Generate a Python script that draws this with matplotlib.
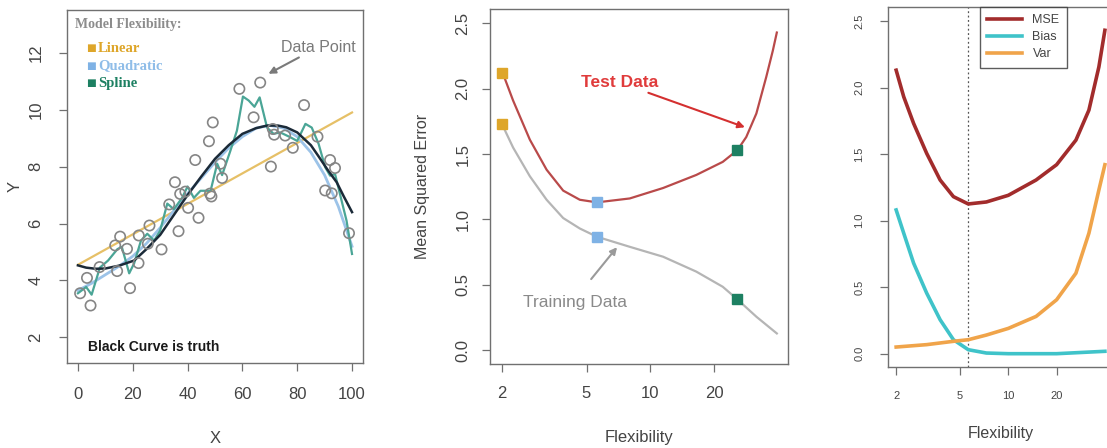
import matplotlib
matplotlib.use("AGG")
import numpy as np
from matplotlib import pyplot as plt
from matplotlib.ticker import FixedLocator, NullLocator

plt.rcParams['font.family'] = ['Liberation Sans', 'DejaVu Sans']

# ---- left panel: data points and fits ----
pts_x = [0.8, 3.3, 4.6, 7.9, 13.6, 15.4, 14.3, 17.9, 19.0, 22.1, 22.2, 26.1, 25.5,
         30.5, 33.3, 35.4, 36.7, 37.3, 39.2, 40.2, 42.8, 44.0, 47.8, 49.2, 48.7,
         48.2, 52.6, 52.0, 58.9, 64.1, 66.5, 70.4, 71.1, 71.6, 75.6, 78.4, 82.5,
         87.4, 90.2, 92.6, 92.0, 93.8, 98.9]
pts_y = [3.55, 4.09, 3.12, 4.47, 5.23, 5.54, 4.33, 5.11, 3.73, 4.61, 5.58, 5.93, 5.29,
         5.09, 6.67, 7.45, 5.73, 7.04, 7.12, 6.55, 8.23, 6.20, 8.89, 9.55, 6.95,
         7.05, 7.60, 8.10, 10.73, 9.73, 10.95, 8.00, 9.32, 9.12, 9.09, 8.66, 10.16,
         9.05, 7.16, 7.06, 8.23, 7.95, 5.66]

truth_x = [0, 3, 6.5, 10, 15, 20.5, 25, 30, 35, 40, 45, 50, 55, 60, 65, 69, 73, 76,
           80, 85, 88, 91, 94.4, 97, 100]
truth_y = [4.53, 4.45, 4.41, 4.42, 4.52, 4.70, 5.10, 5.60, 6.30, 7.00, 7.65, 8.27,
           8.75, 9.15, 9.35, 9.44, 9.44, 9.38, 9.20, 8.75, 8.33, 7.90, 7.45, 6.95, 6.40]

linear_x = [0, 100]
linear_y = [4.55, 9.9]

quad_x = [0, 5, 10, 15, 20, 25, 30, 35, 40, 45, 50, 55, 60, 65, 70, 75, 80, 85, 90, 95, 100]
quad_y = [3.65, 3.9, 4.2, 4.5, 4.85, 5.3, 5.85, 6.45, 7.05, 7.6, 8.15, 8.65, 9.05,
          9.35, 9.45, 9.35, 9.05, 8.5, 7.7, 6.6, 5.2]

spline_x = [0, 3, 5, 8, 11, 14.4, 16, 18.7, 20.5, 23, 25.3, 27.8, 30, 32.6, 35, 38,
            40, 42.3, 44.7, 48.4, 50.8, 52.6, 55.6, 58, 60.2, 62.3, 64.4, 66.3, 69,
            71.4, 73.8, 77.5, 80, 83, 85.3, 87.8, 90.2, 92, 93.8, 96.2, 98, 100]
spline_y = [3.55, 3.77, 3.5, 4.45, 4.7, 5.1, 5.18, 4.25, 4.6, 5.4, 5.64, 5.4, 5.75,
            6.7, 6.5, 6.9, 7.3, 6.9, 7.15, 7.15, 8.1, 7.7, 8.55, 9.26, 10.46, 10.32,
            10.1, 10.43, 9.37, 9.15, 9.2, 9.03, 8.9, 9.5, 9.37, 8.8, 7.98, 7.68,
            7.74, 6.8, 6.1, 4.93]

# ---- middle panel: train / test MSE ----
test_x = [2, 2.25, 2.7, 3.24, 3.88, 4.65, 5.6, 8.0, 11.5, 16.5, 22, 25.8, 28.4,
          31.7, 35.3, 37.9, 39.6]
test_y = [2.13, 1.91, 1.61, 1.38, 1.22, 1.15, 1.13, 1.16, 1.24, 1.34, 1.44, 1.53,
          1.63, 1.81, 2.09, 2.29, 2.43]
train_x = [2, 2.25, 2.7, 3.24, 3.88, 4.65, 5.6, 8.0, 11.5, 16.5, 22, 25.8, 31.7, 39.6]
train_y = [1.725, 1.55, 1.33, 1.15, 1.01, 0.93, 0.867, 0.79, 0.714, 0.60, 0.484,
           0.387, 0.255, 0.127]
model_flex = [2, 5.6, 25.8]
model_test = [2.12, 1.13, 1.53]
model_train = [1.73, 0.865, 0.39]

# ---- right panel: bias-variance ----
mse_x = [2, 2.23, 2.57, 3.1, 3.76, 4.55, 5.63, 7.3, 10, 14.9, 20, 26.4, 31.8, 36.7, 40]
mse_y = [2.13, 1.93, 1.73, 1.505, 1.305, 1.18, 1.125, 1.14, 1.19, 1.305, 1.42,
         1.605, 1.83, 2.155, 2.43]
bias_x = [2, 2.23, 2.57, 3.1, 3.76, 4.55, 5.63, 7.3, 10, 20, 40]
bias_y = [1.08, 0.905, 0.68, 0.455, 0.255, 0.105, 0.03, 0.005, 0.0, 0.0, 0.018]
var_x = [2, 3.1, 4.55, 5.63, 7.3, 10, 14.9, 20, 26.4, 31.8, 36.7, 40]
var_y = [0.05, 0.068, 0.093, 0.105, 0.14, 0.19, 0.28, 0.405, 0.605, 0.905, 1.23, 1.42]
best_flex = 5.63

model_names = ["Linear", "Quadratic", "Spline"]
model_colors = ["#dea62a", "#7fb2e5", "#1d8062"]

frame_col = "#707070"
tick_col = "#444444"

fig = plt.figure(figsize=(11.07, 4.48), dpi=100)
ax1 = fig.add_axes([0.0605, 0.1897, 0.2674, 0.788])
ax2 = fig.add_axes([0.4426, 0.1875, 0.2692, 0.7924])
ax3 = fig.add_axes([0.8022, 0.1808, 0.2040, 0.8036])

def style(ax, size, pad_x, pad_y):
    for s in ax.spines.values():
        s.set_color(frame_col)
        s.set_linewidth(1.0)
    ax.tick_params(colors=frame_col, labelcolor=tick_col, length=6, width=0.9,
                   labelsize=size)
    ax.tick_params(axis='x', pad=pad_x)
    ax.tick_params(axis='y', pad=pad_y)
    for lab in ax.get_yticklabels():
        lab.set_rotation(90)
        lab.set_va('center')

arrow = dict(arrowstyle='-|>', lw=1.5, mutation_scale=10, shrinkA=0, shrinkB=0)

# left panel
ax1.plot(linear_x, linear_y, color="#e6c067", lw=1.6, zorder=2)
ax1.plot(quad_x, quad_y, color="#9cc3e8", lw=2.0, zorder=2)
ax1.plot(spline_x, spline_y, color="#4aa596", lw=1.6, zorder=3)
ax1.plot(truth_x, truth_y, color="#1b2a38", lw=1.8, zorder=4)
ax1.scatter(pts_x, pts_y, s=55, facecolors='none', edgecolors="#858585",
            linewidths=1.2, zorder=5)
ax1.set_xlim(-4, 104)
ax1.set_ylim(1.1, 13.5)
ax1.set_xticks([0, 20, 40, 60, 80, 100])
ax1.set_yticks([2, 4, 6, 8, 10, 12])
style(ax1, 12, 11, 11)
ax1.set_xlabel("X", fontsize=12, color=tick_col)
ax1.set_ylabel("Y", fontsize=12, color=tick_col)
ax1.xaxis.set_label_coords(0.5, -0.193)
ax1.yaxis.set_label_coords(-0.15, 0.5)

ax1.text(0.027, 0.9575, "Model Flexibility:", transform=ax1.transAxes,
         family='Liberation Serif', weight='bold', fontsize=10, color="#8c8c8c",
         va='center', ha='left')
for i, (nm, c) in enumerate(zip(model_names, model_colors)):
    yy = 0.892 - i * 0.0495
    ax1.text(0.082, yy, "\u25a0", transform=ax1.transAxes, family='DejaVu Sans',
             fontsize=7.5, color=c, va='center', ha='center')
    ax1.text(0.104, yy, nm, transform=ax1.transAxes, family='Liberation Serif',
             weight='bold', fontsize=10.5, color=c if i != 1 else "#8fbde8",
             va='center', ha='left')
ax1.annotate("Data Point", xy=(69.5, 11.26), xytext=(74.0, 11.93),
             fontsize=11.5, color="#7a7a7a", ha='left', va='bottom',
             arrowprops=dict(arrow, color="#7a7a7a"))
ax1.text(3.6, 1.65, "Black Curve is truth", fontsize=10, weight='bold',
         color="#1a1a1a", ha='left', va='center')

# middle panel
ax2.plot(train_x, train_y, color="#b5b5b5", lw=1.6, zorder=2)
ax2.plot(test_x, test_y, color="#b94a4a", lw=1.6, zorder=2)
for fx, te, tr, c in zip(model_flex, model_test, model_train, model_colors):
    ax2.plot([fx, fx], [te, tr], ls='none', marker='s', markersize=7.5,
             color=c, zorder=4)
ax2.set_xscale('log')
ax2.set_xlim(1.75, 44.7)
ax2.set_ylim(-0.107, 2.61)
ax2.xaxis.set_major_locator(FixedLocator([2, 5, 10, 20]))
ax2.xaxis.set_minor_locator(NullLocator())
ax2.set_xticklabels(["2", "5", "10", "20"])
ax2.set_yticks([0.0, 0.5, 1.0, 1.5, 2.0, 2.5])
ax2.set_yticklabels(["0.0", "0.5", "1.0", "1.5", "2.0", "2.5"])
style(ax2, 12, 10, 8)
ax2.set_xlabel("Flexibility", fontsize=12, color=tick_col)
ax2.set_ylabel("Mean Squared Error", fontsize=11.5, color=tick_col)
ax2.xaxis.set_label_coords(0.5, -0.186)
ax2.yaxis.set_label_coords(-0.201, 0.5)
ax2.annotate("Test Data", xy=(28.0, 1.705), xytext=(10.9, 1.99),
             fontsize=12.5, weight='bold', color="#e03b3b", ha='right', va='bottom',
             arrowprops=dict(arrow, color="#d43030"))
ax2.text(4.42, 0.36, "Training Data", fontsize=12.5, color="#8a8a8a",
         ha='center', va='center')
ax2.annotate("", xy=(6.97, 0.787), xytext=(5.26, 0.543),
             arrowprops=dict(arrow, color="#9a9a9a"))

# right panel
ax3.plot(mse_x, mse_y, color="#a22c2c", lw=2.6, label="MSE", zorder=3)
ax3.plot(bias_x, bias_y, color="#3fc3c9", lw=2.6, label="Bias", zorder=3)
ax3.plot(var_x, var_y, color="#f0a44a", lw=2.6, label="Var", zorder=3)
ax3.axvline(best_flex, color="#555555", lw=0.9, ls=(0, (1.5, 2)), zorder=1)
ax3.set_xscale('log')
ax3.set_xlim(1.78, 45.5)
ax3.set_ylim(-0.1, 2.605)
ax3.xaxis.set_major_locator(FixedLocator([2, 5, 10, 20]))
ax3.xaxis.set_minor_locator(NullLocator())
ax3.set_xticklabels(["2", "5", "10", "20"])
ax3.set_yticks([0.0, 0.5, 1.0, 1.5, 2.0, 2.5])
ax3.set_yticklabels(["0.0", "0.5", "1.0", "1.5", "2.0", "2.5"])
style(ax3, 8, 11, 11)
ax3.set_xlabel("Flexibility", fontsize=11.5, color=tick_col)
ax3.xaxis.set_label_coords(0.5, -0.164)
leg = ax3.legend(loc='upper left', bbox_to_anchor=(0.407, 1.0), borderaxespad=0,
                 fancybox=False, fontsize=9, handlelength=2.8, labelspacing=0.4,
                 borderpad=0.6, handletextpad=0.8)
leg.get_frame().set_edgecolor("#333333")
leg.get_frame().set_linewidth(1.0)
for t in leg.get_texts():
    t.set_color("#444444")

fig.savefig("out.png", dpi=100)
